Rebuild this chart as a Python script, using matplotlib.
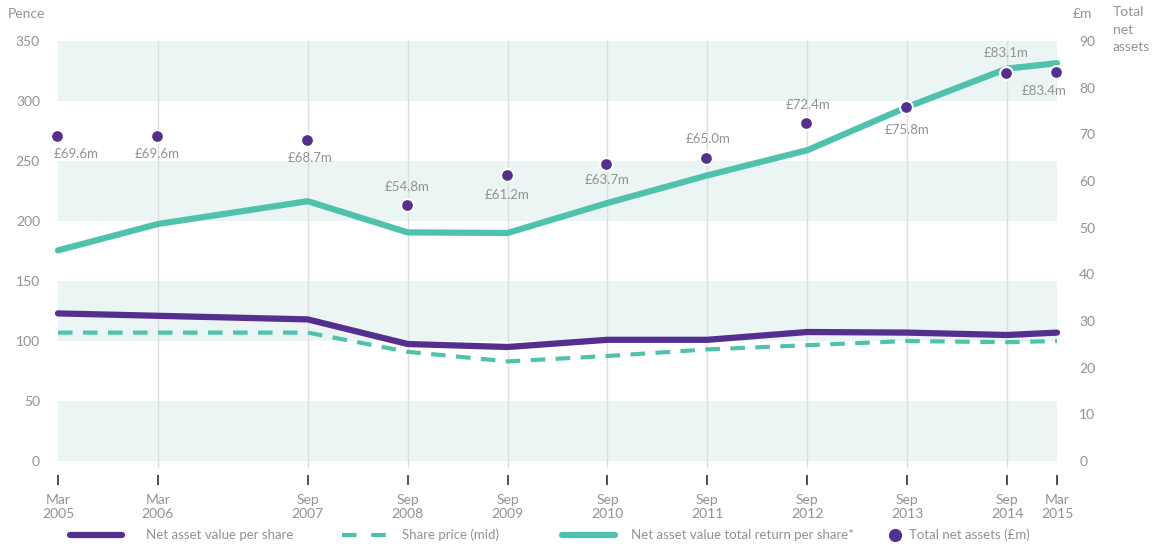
import matplotlib.pyplot as plt
from matplotlib.lines import Line2D

plt.rcParams['font.family'] = ['Lato', 'DejaVu Sans']

# period labels and their positions in decimal years
periods = ['Mar\n2005', 'Mar\n2006', 'Sep\n2007', 'Sep\n2008', 'Sep\n2009', 'Sep\n2010',
           'Sep\n2011', 'Sep\n2012', 'Sep\n2013', 'Sep\n2014', 'Mar\n2015']
years = [2005.167, 2006.167, 2007.667, 2008.667, 2009.667, 2010.667,
         2011.667, 2012.667, 2013.667, 2014.667, 2015.167]

nav_per_share = [123, 121, 118, 97.5, 95, 101, 101, 107.5, 107, 105, 107]
share_price = [107, 107, 107, 91, 83, 87.5, 93, 96.5, 100, 99, 100]
nav_total_return = [175.5, 197.5, 216.5, 190.5, 190, 215, 238, 259, 295, 327, 331.5]
total_net_assets = [69.6, 69.6, 68.7, 54.8, 61.2, 63.7, 65.0, 72.4, 75.8, 83.1, 83.4]

# label offsets (pixels) for the net asset annotations
label_offsets = [(19, -18), (0, -18), (3, -18), (0, 18), (1, -20), (1, -16),
                 (2, 19), (2, 18), (1, -23), (0, 20), (-12, -19)]

PURPLE = '#552f90'
TEAL = '#4fc2ae'
BAND = '#ebf5f3'
GREY = '#929292'
GRID = '#dedede'

fig = plt.figure(figsize=(11.56, 5.46), dpi=100)
ax = fig.add_axes([58 / 1156, 1 - 461 / 546, 999 / 1156, 420 / 546])
ax2 = ax.twinx()

# alternating bands
for lo in range(0, 350, 100):
    ax.axhspan(lo, lo + 50, color=BAND, lw=0, zorder=0)

for x in years[1:-1]:
    ax.axvline(x, ymin=-0.015, ymax=1, color=GRID, lw=1, zorder=1, clip_on=False)

ax.plot(years, nav_total_return, color=TEAL, lw=4.5, solid_capstyle='round',
        solid_joinstyle='round', zorder=3, clip_on=False)
ax.plot(years, share_price, color=TEAL, lw=3, linestyle=(0, (3.5, 2.5)), zorder=3,
        clip_on=False)
ax.plot(years, nav_per_share, color=PURPLE, lw=4.5, solid_capstyle='round',
        solid_joinstyle='round', zorder=4, clip_on=False)

ax2.scatter([y - 0.01 for y in years], total_net_assets, s=85, color=PURPLE,
            edgecolor='white', linewidth=1.5, zorder=5, clip_on=False)
for x, v, off in zip(years, total_net_assets, label_offsets):
    ax2.annotate(f'£{v:.1f}m', (x - 0.01, v), xytext=off, textcoords='offset pixels',
                 ha='center', va='center', fontsize=9.5, color=GREY,
                 annotation_clip=False)

ax.set_xlim(years[0], years[-1])
ax.set_ylim(0, 350)
ax2.set_ylim(0, 90)
ax.set_yticks(range(0, 351, 50))
ax2.set_yticks(range(0, 91, 10))
ax.set_xticks(years)
ax.set_xticklabels(periods, linespacing=1.35)

for a in (ax, ax2):
    for s in a.spines.values():
        s.set_visible(False)
ax.spines['bottom'].set_position(('outward', 10))
ax.tick_params(axis='x', length=7.5, width=1.2, color='#333333', pad=6,
               labelsize=10, labelcolor=GREY)
ax.tick_params(axis='y', length=0, pad=13, labelsize=10, labelcolor=GREY)
ax2.tick_params(axis='y', length=0, pad=16, labelsize=10, labelcolor=GREY)

fig.text(45 / 1156, 1 - 14 / 546, 'Pence', ha='right', va='center', fontsize=10, color=GREY)
fig.text(1073 / 1156, 1 - 14 / 546, '£m', ha='left', va='center', fontsize=10, color=GREY)
fig.text(1113 / 1156, 1 - 6 / 546, 'Total\nnet\nassets', ha='left', va='top',
         fontsize=10, color=GREY, linespacing=1.55)

# legend along the bottom
ly = 1 - 535 / 546
fig.add_artist(Line2D([70 / 1156, 122 / 1156], [ly, ly], color=PURPLE, lw=4.5,
                      solid_capstyle='round'))
fig.add_artist(Line2D([342 / 1156, 386 / 1156], [ly, ly], color=TEAL, lw=3,
                      linestyle=(0, (3.5, 3.5))))
fig.add_artist(Line2D([562 / 1156, 615 / 1156], [ly, ly], color=TEAL, lw=4.5,
                      solid_capstyle='round'))
fig.add_artist(Line2D([895 / 1156], [ly], marker='o', markersize=8.5, color=PURPLE, lw=0))
for x, t in [(146, 'Net asset value per share'), (402, 'Share price (mid)'),
             (631, 'Net asset value total return per share*'), (909, 'Total net assets (£m)')]:
    fig.text(x / 1156, ly, t, ha='left', va='center', fontsize=9.5, color=GREY)

fig.savefig('out.png', dpi=100)
